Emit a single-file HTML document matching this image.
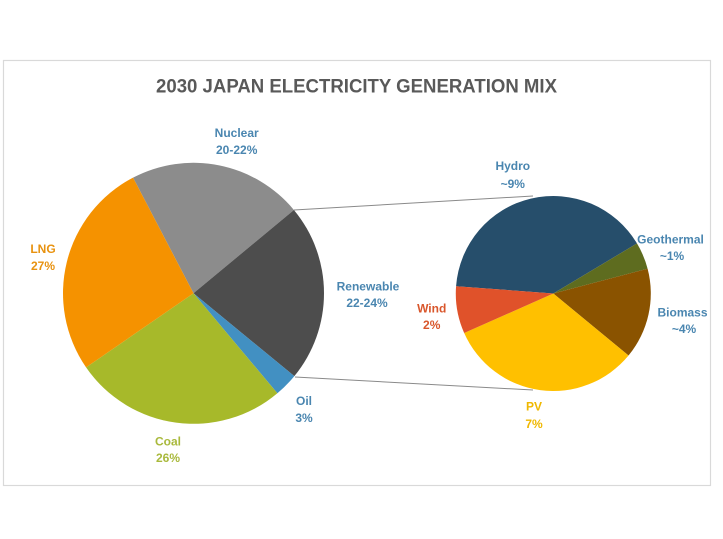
<!DOCTYPE html>
<html>
<head>
<meta charset="utf-8">
<style>
  html, body { margin: 0; padding: 0; background: #ffffff; }
  svg { display: block; }
  text { font-family: "Liberation Sans", Arial, sans-serif; font-weight: bold; }
</style>
</head>
<body>
<svg width="723" height="539" viewBox="0 0 723 539" xmlns="http://www.w3.org/2000/svg">
  <rect x="0" y="0" width="723" height="539" fill="#ffffff"/>
  <!-- frame -->
  <rect x="3.5" y="60.5" width="707" height="425" fill="#ffffff" stroke="#d9d9d9" stroke-width="1.2"/>

  <!-- title -->
  <text x="156" y="92.5" font-size="19" fill="#595959" textLength="401" lengthAdjust="spacingAndGlyphs">2030 JAPAN ELECTRICITY GENERATION MIX</text>

  <!-- connector lines -->
  <line x1="294" y1="210" x2="533" y2="196" stroke="#8a8a8a" stroke-width="1"/>
  <line x1="295" y1="377" x2="533" y2="390" stroke="#8a8a8a" stroke-width="1"/>

  <!-- left pie -->
  <g>
    <!-- Nuclear -->
    <path d="M193.5,293.3 L133.04,177.65 A130.5,130.5 0 0 1 293.91,209.94 Z" fill="#8c8c8c"/>
    <!-- Renewable -->
    <path d="M193.5,293.3 L293.91,209.94 A130.5,130.5 0 0 1 294.34,376.13 Z" fill="#4d4d4d"/>
    <!-- Oil -->
    <path d="M193.5,293.3 L294.34,376.13 A130.5,130.5 0 0 1 277.38,393.27 Z" fill="#4290c2"/>
    <!-- Coal -->
    <path d="M193.5,293.3 L277.38,393.27 A130.5,130.5 0 0 1 86.08,367.40 Z" fill="#a7b92a"/>
    <!-- LNG -->
    <path d="M193.5,293.3 L86.08,367.40 A130.5,130.5 0 0 1 133.04,177.65 Z" fill="#f59200"/>
  </g>

  <!-- right pie -->
  <g>
    <!-- Hydro -->
    <path d="M553.3,293.5 L456.07,286.19 A97.5,97.5 0 0 1 636.97,243.43 Z" fill="#264e6b"/>
    <!-- Geothermal -->
    <path d="M553.3,293.5 L636.97,243.43 A97.5,97.5 0 0 1 647.61,268.75 Z" fill="#5e6c1f"/>
    <!-- Biomass -->
    <path d="M553.3,293.5 L647.61,268.75 A97.5,97.5 0 0 1 628.53,355.52 Z" fill="#8a5300"/>
    <!-- PV -->
    <path d="M553.3,293.5 L628.53,355.52 A97.5,97.5 0 0 1 464.16,333.00 Z" fill="#ffc000"/>
    <!-- Wind -->
    <path d="M553.3,293.5 L464.16,333.00 A97.5,97.5 0 0 1 456.07,286.19 Z" fill="#e0522a"/>
  </g>

  <!-- labels left -->
  <g font-size="12" text-anchor="middle">
    <text x="236.7" y="137" fill="#4a86b0">Nuclear</text>
    <text x="236.7" y="154" fill="#4a86b0">20-22%</text>

    <text x="43" y="253" fill="#e8920f">LNG</text>
    <text x="43" y="270" fill="#e8920f">27%</text>

    <text x="368" y="290.5" fill="#4a86b0">Renewable</text>
    <text x="367" y="307" fill="#4a86b0">22-24%</text>

    <text x="304" y="405" fill="#4a86b0">Oil</text>
    <text x="304" y="422" fill="#4a86b0">3%</text>

    <text x="168" y="445.5" fill="#a9b93c">Coal</text>
    <text x="168" y="462" fill="#a9b93c">26%</text>

    <!-- labels right -->
    <text x="512.8" y="170" fill="#4a86b0">Hydro</text>
    <text x="512.8" y="188" fill="#4a86b0">~9%</text>

    <text x="670.5" y="243.3" fill="#4a86b0">Geothermal</text>
    <text x="672" y="260" fill="#4a86b0">~1%</text>

    <text x="682.5" y="316.7" fill="#4a86b0">Biomass</text>
    <text x="684" y="333" fill="#4a86b0">~4%</text>

    <text x="431.7" y="312.7" fill="#d9562b">Wind</text>
    <text x="431.7" y="329" fill="#d9562b">2%</text>

    <text x="534" y="410.7" fill="#f0b800">PV</text>
    <text x="534" y="428" fill="#f0b800">7%</text>
  </g>
</svg>
</body>
</html>
